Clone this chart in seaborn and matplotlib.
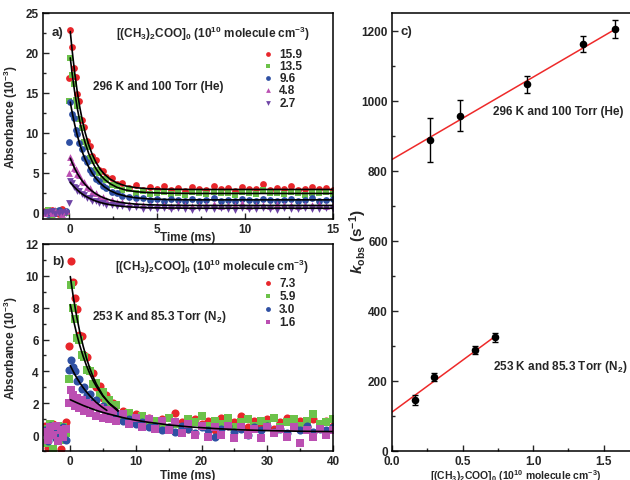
import numpy as np
import pandas as pd
import seaborn as sns
import matplotlib.pyplot as plt
from matplotlib.ticker import MultipleLocator

# ---- panel a: 296 K, 100 Torr He ----
ta = [-1.4, -1.2, -1.0, -0.8, -0.6, -0.4, -0.2, -0.03,
      0.05, 0.15, 0.25, 0.35, 0.45, 0.55, 0.7, 0.85, 1.0, 1.15,
      1.3, 1.5, 1.7, 1.9, 2.1, 2.4, 2.7, 3.0,
      3.4, 3.8, 4.2, 4.6, 5.0, 5.4, 5.8, 6.2, 6.6, 7.0, 7.4, 7.8, 8.2, 8.6, 9.0,
      9.4, 9.8, 10.2, 10.6, 11.0, 11.4, 11.8, 12.2, 12.6, 13.0, 13.4, 13.8, 14.2, 14.6, 15.0]
a_159 = [0.2, -0.1, 0.3, 0.0, -0.2, 0.4, 0.1, 16.9,
         22.9, 20.8, 18.1, 17.0, 14.8, 14.0, 11.6, 10.7, 9.0, 8.4,
         7.1, 6.6, 5.4, 5.2, 4.4, 4.3, 3.6, 3.7,
         3.1, 3.4, 2.8, 3.2, 2.9, 3.3, 2.8, 3.1, 2.7, 3.2, 3.0, 2.8, 3.3, 2.9, 3.1,
         2.7, 3.2, 2.9, 3.0, 3.6, 2.8, 3.1, 2.9, 3.3, 2.8, 3.0, 3.2, 2.9, 3.1, 2.8]
a_135 = [-0.1, 0.3, -0.3, 0.1, 0.2, -0.2, 0.0, 14.0,
         19.4, 17.2, 16.1, 14.1, 13.3, 11.7, 10.6, 8.9, 8.2, 6.9,
         6.5, 5.4, 5.0, 4.2, 4.1, 3.4, 3.3, 2.8,
         2.9, 2.5, 2.7, 2.3, 2.5, 2.6, 2.3, 2.5, 2.2, 2.6, 2.4, 2.3, 2.6, 2.4, 2.5,
         2.2, 2.6, 2.4, 2.3, 2.8, 2.4, 2.5, 2.3, 2.6, 2.4, 2.2, 2.5, 2.4, 2.6, 2.3]
a_96 = [0.1, -0.2, 0.2, 0.0, 0.3, -0.1, 0.2, 8.9,
        13.9, 12.4, 11.8, 10.3, 9.9, 8.7, 8.0, 6.8, 6.3, 5.3,
        5.0, 4.2, 3.9, 3.3, 3.1, 2.6, 2.4, 2.1,
        2.0, 1.8, 1.8, 1.6, 1.7, 1.5, 1.7, 1.6, 1.4, 1.7, 1.5, 1.6, 1.8, 1.5, 1.6,
        1.4, 1.7, 1.6, 1.5, 1.7, 1.6, 1.4, 1.6, 1.7, 1.5, 1.6, 1.8, 1.5, 1.6, 1.7]
a_48 = [0.0, 0.2, -0.1, 0.3, 0.1, -0.2, 0.2, 5.0,
        7.0, 6.4, 5.6, 5.5, 4.8, 4.7, 3.9, 3.8, 3.2, 3.1,
        2.6, 2.5, 2.0, 2.0, 1.6, 1.6, 1.3, 1.3,
        1.1, 1.1, 0.9, 1.0, 0.9, 1.0, 0.8, 1.1, 0.9, 0.8, 1.0, 0.9, 1.1, 0.8, 1.0,
        0.9, 1.2, 0.8, 0.9, 1.0, 0.8, 1.1, 0.9, 1.0, 0.8, 1.0, 0.9, 1.1, 0.8, 0.9]
a_27 = [-0.1, 0.1, 0.2, -0.2, 0.0, 0.1, -0.1, 1.2,
        3.9, 3.7, 3.2, 3.1, 2.7, 2.7, 2.3, 2.2, 1.8, 1.8,
        1.5, 1.5, 1.2, 1.2, 1.0, 0.9, 0.8, 0.8,
        0.6, 0.7, 0.5, 0.6, 0.5, 0.6, 0.4, 0.6, 0.5, 0.3, 0.6, 0.5, 0.4, 0.6, 0.5,
        0.3, 0.6, 0.5, 0.4, 0.6, 0.5, 0.3, 0.6, 0.5, 0.4, 0.6, 0.5, 0.4, 0.6, 0.5]

ta_fit = [0.05, 0.15, 0.3, 0.45, 0.6, 0.75, 0.9, 1.1, 1.3, 1.5, 1.75, 2.0, 2.3, 2.7,
          3.2, 3.8, 4.5, 5.5, 7, 9, 12, 15]
fa_159 = [22.68, 20.44, 17.54, 15.10, 13.09, 11.41, 10.00, 8.49, 7.29, 6.34, 5.44, 4.79,
          4.22, 3.72, 3.34, 3.12, 2.99, 2.93, 2.9, 2.9, 2.9, 2.9]
fa_135 = [19.38, 17.52, 15.11, 13.07, 11.36, 9.92, 8.72, 7.40, 6.38, 5.55, 4.76, 4.16,
          3.64, 3.17, 2.83, 2.62, 2.50, 2.43, 2.4, 2.4, 2.4, 2.4]
fa_96 = [13.84, 12.63, 11.04, 9.68, 8.50, 7.51, 6.66, 5.70, 4.93, 4.31, 3.69, 3.21,
         2.77, 2.37, 2.06, 1.85, 1.72, 1.64, 1.6, 1.6, 1.6, 1.6]
fa_48 = [6.81, 6.27, 5.54, 4.92, 4.38, 3.91, 3.51, 3.05, 2.68, 2.36, 2.05, 1.81,
         1.58, 1.37, 1.19, 1.06, 0.98, 0.93, 0.9, 0.9, 0.9, 0.9]
fa_27 = [3.80, 3.53, 3.16, 2.83, 2.55, 2.30, 2.08, 1.84, 1.63, 1.45, 1.27, 1.13,
         0.99, 0.86, 0.75, 0.67, 0.61, 0.58, 0.55, 0.55, 0.55, 0.55]

# ---- panel b: 253 K, 85.3 Torr N2 ----
tb = [-3.8, -3.4, -3.0, -2.6, -2.2, -1.8, -1.4, -1.0, -0.6, -0.2,
      0.1, 0.4, 0.7, 1.0, 1.4, 1.8, 2.2, 2.6, 3.0, 3.5, 4.0, 4.5, 5.0, 5.5, 6.0, 6.5, 7.0,
      8, 9, 10, 11, 12, 13, 14, 15, 16, 17, 18, 19, 20, 21, 22, 23, 24,
      25, 26, 27, 28, 29, 30, 31, 32, 33, 34, 35, 36, 37, 38, 39, 40]
b_73 = [0.6, -0.8, 0.3, 0.7, -0.2, 0.5, -0.9, 0.4, 0.8, 5.6,
        10.9, 9.6, 8.6, 7.9, 6.3, 6.2, 5.0, 4.9, 4.0, 3.9, 3.0, 3.1, 2.3, 2.5, 1.8, 2.0, 1.4,
        1.5, 0.9, 1.3, 0.7, 1.1, 0.6, 1.0, 0.5, 1.4, 0.8, 0.4, 1.0, 0.7, 0.9, 0.3, 1.1, 0.6,
        0.8, 1.2, 0.5, 0.9, 0.6, 1.0, 0.4, 0.8, 1.1, 0.6, 0.9, 0.5, 1.0, 0.7, 0.9, 0.6]
b_59 = [-0.5, 0.4, 0.7, -0.9, 0.2, 0.6, -0.3, 0.5, 0.1, 3.5,
        9.4, 8.0, 7.3, 6.1, 6.0, 5.0, 4.9, 4.1, 4.0, 3.2, 3.3, 2.5, 2.7, 2.0, 2.2, 1.6, 1.9,
        1.2, 1.4, 0.9, 1.2, 0.7, 0.9, 0.6, 1.1, 0.7, 0.5, 1.0, 0.8, 1.2, 0.6, 0.9, 0.7, 1.1,
        0.5, 0.8, 1.0, 0.6, 0.9, 0.7, 1.1, 0.5, 0.8, 1.0, 0.6, 0.9, 1.3, 0.7, 0.8, 1.0]
b_30 = [0.3, -0.4, 0.6, 0.1, -0.2, 0.4, 0.0, 0.5, -0.3, 4.1,
        4.7, 4.3, 4.0, 3.4, 3.5, 2.9, 3.0, 2.5, 2.6, 2.1, 2.2, 1.7, 1.8, 1.4, 1.5, 1.2, 1.3,
        0.9, 1.0, 0.7, 0.8, 0.5, 0.6, 0.3, 0.5, 0.2, 0.6, 0.4, 0.1, 0.5, 0.3, -0.1, 0.4, 0.6,
        0.2, 0.4, 0.0, 0.5, 0.3, 0.6, 0.2, 0.4, 0.1, 0.5, 0.3, 0.6, 0.2, 0.4, 0.3, 0.5]
b_16 = [0.2, -0.3, 0.5, 0.0, 0.6, -0.4, 0.3, -0.1, 0.4, 2.0,
        2.8, 2.5, 1.8, 2.3, 1.7, 2.2, 1.5, 2.0, 1.4, 1.9, 1.2, 1.7, 1.1, 1.6, 1.0, 1.5, 0.9,
        1.3, 0.7, 1.1, 0.5, 1.0, 0.4, 0.9, 0.3, 0.8, 0.1, 0.7, 0.0, 0.6, -0.1, 0.5, 0.0, 0.6,
        -0.2, 0.5, 0.0, 0.4, -0.2, 0.5, 0.1, 0.4, -0.1, 0.5, -0.5, 0.3, -0.1, 0.4, 0.0, 0.3]

tb_fit_fast = [0.05, 0.5, 1.0, 1.5, 2.0, 2.5, 3.0, 3.5, 4.0, 5.0, 6.0, 7.3]
fb_73 = [9.95, 8.68, 7.48, 6.45, 5.59, 4.84, 4.21, 3.67, 3.21, 2.49, 1.97, 1.50]
fb_59 = [8.19, 7.28, 6.38, 5.61, 4.95, 4.37, 3.87, 3.43, 3.06, 2.45, 1.99, 1.56]
tb_fit_30 = [0.05, 0.5, 1.0, 1.5, 2.0, 2.5, 3.0, 3.5, 4.0, 4.8, 5.6]
fb_30 = [4.36, 3.99, 3.61, 3.28, 2.98, 2.71, 2.47, 2.25, 2.05, 1.78, 1.55]
tb_fit_16 = [0.05, 1, 2, 3, 4, 5, 6, 8, 10, 12, 15, 18, 22, 26, 30, 35, 40]
fb_16 = [2.22, 2.04, 1.86, 1.70, 1.55, 1.42, 1.31, 1.10, 0.93, 0.80, 0.64, 0.52,
         0.41, 0.33, 0.28, 0.24, 0.22]

# ---- panel c: k_obs vs concentration ----
conc_he = [0.27, 0.48, 0.96, 1.35, 1.58]
k_he = [888, 957, 1047, 1161, 1204]
err_he = [63, 45, 24, 22, 25]
conc_n2 = [0.16, 0.30, 0.59, 0.73]
k_n2 = [146, 211, 289, 324]
err_n2 = [15, 12, 12, 14]
line_he_x = [0.0, 1.6]
line_he_y = [832, 1208]
line_n2_x = [0.0, 0.74]
line_n2_y = [111, 330]

sns.set_style('ticks')
plt.rcParams['font.family'] = ['Liberation Sans', 'DejaVu Sans']
plt.rcParams['font.weight'] = 'bold'
plt.rcParams['axes.labelweight'] = 'bold'
plt.rcParams['mathtext.fontset'] = 'custom'
plt.rcParams['mathtext.rm'] = 'Liberation Sans:bold'
plt.rcParams['mathtext.bf'] = 'Liberation Sans:bold'
plt.rcParams['mathtext.it'] = 'Liberation Sans:italic:bold'
plt.rcParams['mathtext.default'] = 'rm'

RED = '#e8262b'
GREEN = '#6cc24a'
BLUE = '#2f50a3'
MAGENTA = '#bb4fb2'
VIOLET = '#6f45a6'
FS = 8.5

fig = plt.figure(figsize=(6.3, 4.81), dpi=100)
ax_a = fig.add_axes([0.0683, 0.5426, 0.4603, 0.4283])
ax_b = fig.add_axes([0.0683, 0.0603, 0.4603, 0.4304])
ax_c = fig.add_axes([0.6222, 0.0603, 0.3921, 0.9106])

conc_title = r'[(CH$_3$)$_2$COO]$_0$ (10$^{10}$ molecule cm$^{-3}$)'


def style_axis(ax):
    for sp in ax.spines.values():
        sp.set_linewidth(1.1)
        sp.set_color('black')
    ax.tick_params(which='both', direction='in', labelsize=FS, top=False, right=False,
                   width=1.0, pad=3)
    ax.tick_params(which='major', length=4)
    ax.tick_params(which='minor', length=2.5)


# panel a
series_a = [(a_159, fa_159, RED, 'o', '15.9'), (a_135, fa_135, GREEN, 's', '13.5'),
            (a_96, fa_96, BLUE, 'o', '9.6'), (a_48, fa_48, MAGENTA, '^', '4.8'),
            (a_27, fa_27, VIOLET, 'v', '2.7')]
for vals, _, col, mk, lab in series_a:
    sns.scatterplot(x=ta, y=vals, color=col, marker=mk, s=24, linewidth=0,
                    label=lab, ax=ax_a, zorder=2)
for _, fit, _, _, _ in series_a:
    sns.lineplot(x=ta_fit, y=fit, color='black', lw=1.2, ax=ax_a, zorder=3, legend=False)
ax_a.set_xlim(-1.5, 15)
ax_a.set_ylim(-0.8, 25)
ax_a.xaxis.set_major_locator(MultipleLocator(5))
ax_a.xaxis.set_minor_locator(MultipleLocator(2.5))
ax_a.yaxis.set_major_locator(MultipleLocator(5))
ax_a.yaxis.set_minor_locator(MultipleLocator(2.5))
ax_a.set_xlabel('Time (ms)', fontsize=FS, labelpad=-3)
ax_a.set_ylabel(r'Absorbance (10$^{-3}$)', fontsize=FS)
ax_a.legend(loc='upper left', bbox_to_anchor=(0.725, 0.86), frameon=False, fontsize=FS,
            handletextpad=0.2, labelspacing=0.02, borderpad=0, handlelength=1.5,
            markerscale=0.7)
ax_a.text(0.586, 0.903, conc_title, transform=ax_a.transAxes, ha='center', va='center',
          fontsize=FS)
ax_a.text(0.397, 0.646, '296 K and 100 Torr (He)', transform=ax_a.transAxes,
          ha='center', va='center', fontsize=FS)
ax_a.text(0.03, 0.908, 'a)', transform=ax_a.transAxes, ha='left', va='center', fontsize=9.5)
style_axis(ax_a)

# panel b
series_b = [(b_73, RED, 'o', '7.3'), (b_59, GREEN, 's', '5.9'),
            (b_30, BLUE, 'o', '3.0'), (b_16, MAGENTA, 's', '1.6')]
for vals, col, mk, lab in series_b:
    sns.scatterplot(x=tb, y=vals, color=col, marker=mk, s=34, linewidth=0,
                    label=lab, ax=ax_b, zorder=2)
sns.lineplot(x=tb_fit_fast, y=fb_73, color='black', lw=1.2, ax=ax_b, zorder=3, legend=False)
sns.lineplot(x=tb_fit_fast, y=fb_59, color='black', lw=1.2, ax=ax_b, zorder=3, legend=False)
sns.lineplot(x=tb_fit_30, y=fb_30, color='black', lw=1.2, ax=ax_b, zorder=3, legend=False)
sns.lineplot(x=tb_fit_16, y=fb_16, color='black', lw=1.2, ax=ax_b, zorder=3, legend=False)
ax_b.set_xlim(-4.1, 40)
ax_b.set_ylim(-1, 12)
ax_b.xaxis.set_major_locator(MultipleLocator(10))
ax_b.xaxis.set_minor_locator(MultipleLocator(5))
ax_b.yaxis.set_major_locator(MultipleLocator(2))
ax_b.yaxis.set_minor_locator(MultipleLocator(1))
ax_b.set_xlabel('Time (ms)', fontsize=FS, labelpad=1)
ax_b.set_ylabel(r'Absorbance (10$^{-3}$)', fontsize=FS)
ax_b.legend(loc='upper left', bbox_to_anchor=(0.725, 0.87), frameon=False, fontsize=FS,
            handletextpad=0.2, labelspacing=0.1, borderpad=0, handlelength=1.5,
            markerscale=0.6)
ax_b.text(0.583, 0.894, conc_title, transform=ax_b.transAxes, ha='center', va='center',
          fontsize=FS)
ax_b.text(0.40, 0.652, r'253 K and 85.3 Torr (N$_2$)', transform=ax_b.transAxes,
          ha='center', va='center', fontsize=FS)
ax_b.text(0.03, 0.918, 'b)', transform=ax_b.transAxes, ha='left', va='center', fontsize=9.5)
style_axis(ax_b)

# panel c
sns.lineplot(x=line_he_x, y=line_he_y, color='#ee2a2a', lw=1.1, ax=ax_c, zorder=2)
sns.lineplot(x=line_n2_x, y=line_n2_y, color='#ee2a2a', lw=1.1, ax=ax_c, zorder=2)
ax_c.errorbar(conc_he, k_he, yerr=err_he, fmt='none', ecolor='black', elinewidth=1.0,
              capsize=2.5, capthick=1.0, zorder=3)
ax_c.errorbar(conc_n2, k_n2, yerr=err_n2, fmt='none', ecolor='black', elinewidth=1.0,
              capsize=2.5, capthick=1.0, zorder=3)
sns.scatterplot(x=conc_he, y=k_he, color='black', s=30, linewidth=0, ax=ax_c, zorder=4)
sns.scatterplot(x=conc_n2, y=k_n2, color='black', s=30, linewidth=0, ax=ax_c, zorder=4)
ax_c.set_xlim(0, 1.75)
ax_c.set_ylim(0, 1250)
ax_c.xaxis.set_major_locator(MultipleLocator(0.5))
ax_c.xaxis.set_minor_locator(MultipleLocator(0.25))
ax_c.yaxis.set_major_locator(MultipleLocator(200))
ax_c.yaxis.set_minor_locator(MultipleLocator(100))
ax_c.set_xlabel(conc_title, fontsize=7.5, labelpad=0)
ax_c.set_ylabel(r'$\mathit{k}_{\mathrm{obs}}$ (s$^{-1}$)', fontsize=11)
ax_c.yaxis.set_label_coords(-0.095, 0.48)
ax_c.text(0.06, 0.959, 'c)', transform=ax_c.transAxes, ha='center', va='center', fontsize=9.5)
ax_c.text(0.672, 0.776, '296 K and 100 Torr (He)', transform=ax_c.transAxes,
          ha='center', va='center', fontsize=FS)
ax_c.text(0.68, 0.194, r'253 K and 85.3 Torr (N$_2$)', transform=ax_c.transAxes,
          ha='center', va='center', fontsize=FS)
style_axis(ax_c)

fig.savefig('out.png', dpi=100)
